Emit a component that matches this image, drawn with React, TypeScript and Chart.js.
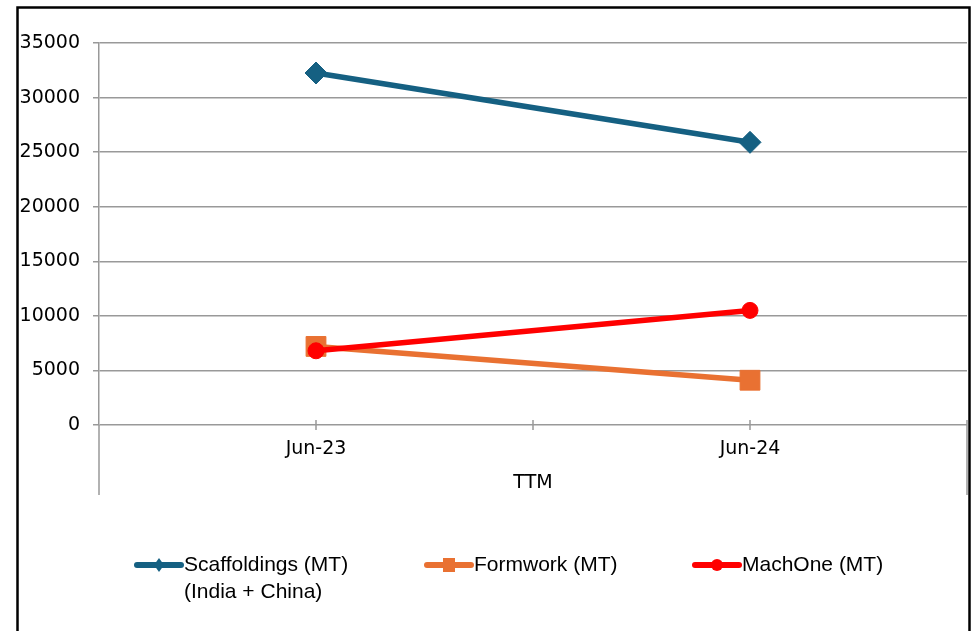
import React, { useEffect, useRef } from 'react';
import { Chart, registerables } from 'chart.js';

Chart.register(...registerables);

const categories = ['Jun-23', 'Jun-24'];
const groupLabel = 'TTM';
const scaffoldings = [32250, 25900];
const formwork = [7200, 4100];
const machOne = [6800, 10500];
const seriesLabels = [
  ['Scaffoldings (MT)', '(India + China)'],
  ['Formwork (MT)'],
  ['MachOne (MT)'],
];
const seriesColors = ['#156082', '#E97132', '#FF0000'];
const seriesMarkers = ['rectRot', 'rect', 'circle'];
const yMin = 0;
const yMax = 35000;
const yStep = 5000;

const AXIS_FAMILY = '"DejaVu Sans", Verdana, sans-serif';
const AXIS_SIZE = 19;
const LEGEND_FONT = '21px "Liberation Sans", Arial, sans-serif';
const GRID = '#999999';

const decorPlugin = {
  id: 'decor',
  afterDraw(chart: any) {
    const ctx = chart.ctx;
    const area = chart.chartArea;
    const xs = chart.scales.x;
    ctx.save();
    // outer frame
    ctx.strokeStyle = '#000000';
    ctx.lineWidth = 2.5;
    ctx.strokeRect(17.5, 7.5, 952, 700);

    // multi-level category separators
    ctx.strokeStyle = GRID;
    ctx.lineWidth = 1.5;
    ctx.beginPath();
    ctx.moveTo(area.left, area.bottom);
    ctx.lineTo(area.left, area.bottom + 70);
    ctx.moveTo(area.right, area.bottom - 5);
    ctx.lineTo(area.right, area.bottom + 70);
    const n = categories.length;
    const pts: number[] = [];
    for (let i = 0; i < n; i++) {
      pts.push(xs.getPixelForValue(i));
    }
    const half = (area.right - area.left) / (2 * n);
    for (let i = 0; i < n; i++) {
      pts.push(pts[i] + half);
    }
    pts.forEach((px) => {
      ctx.moveTo(px, area.bottom - 5);
      ctx.lineTo(px, area.bottom + 5);
    });
    ctx.stroke();

    // group label
    ctx.fillStyle = '#000000';
    ctx.font = AXIS_SIZE + 'px ' + AXIS_FAMILY;
    ctx.textAlign = 'center';
    ctx.textBaseline = 'middle';
    ctx.fillText(groupLabel, (area.left + area.right) / 2, area.bottom + 58);

    // legend
    const legendX = [135, 425, 693];
    const legendY = 565;
    const lineH = 27;
    ctx.font = LEGEND_FONT;
    ctx.textAlign = 'left';
    chart.data.datasets.forEach((ds: any, i: number) => {
      const x0 = legendX[i];
      const color = seriesColors[i];
      ctx.strokeStyle = color;
      ctx.fillStyle = color;
      ctx.lineWidth = 6;
      ctx.lineCap = 'round';
      ctx.beginPath();
      ctx.moveTo(x0 + 2, legendY);
      ctx.lineTo(x0 + 46, legendY);
      ctx.stroke();
      const cx = x0 + 24;
      ctx.beginPath();
      if (seriesMarkers[i] === 'rectRot') {
        ctx.moveTo(cx, legendY - 7);
        ctx.lineTo(cx + 5, legendY);
        ctx.lineTo(cx, legendY + 7);
        ctx.lineTo(cx - 5, legendY);
        ctx.closePath();
      } else if (seriesMarkers[i] === 'rect') {
        ctx.rect(cx - 6, legendY - 7, 12, 14);
      } else {
        ctx.arc(cx, legendY, 6, 0, Math.PI * 2);
      }
      ctx.fill();
      ctx.fillStyle = '#000000';
      seriesLabels[i].forEach((t, j) => {
        ctx.fillText(t, x0 + 49, legendY + j * lineH);
      });
    });
    ctx.restore();
  },
};

export default function App() {
  const ref = useRef<HTMLCanvasElement | null>(null);
  useEffect(() => {
    if (!ref.current) return;
    const mk = (label: string, data: number[], i: number, radius: number, order: number) => ({
      label,
      data,
      order,
      borderColor: seriesColors[i],
      backgroundColor: seriesColors[i],
      pointBackgroundColor: seriesColors[i],
      pointBorderColor: seriesColors[i],
      pointBorderWidth: 1,
      borderWidth: 5.5,
      pointStyle: seriesMarkers[i],
      pointRadius: radius,
      pointHoverRadius: radius,
      tension: 0,
    });
    const chart = new Chart(ref.current, {
      type: 'line',
      data: {
        labels: categories,
        datasets: [
          mk(seriesLabels[0].join(' '), scaffoldings, 0, 11, 2),
          mk(seriesLabels[1].join(' '), formwork, 1, 14, 1),
          mk(seriesLabels[2].join(' '), machOne, 2, 8, 0),
        ],
      },
      options: {
        animation: false,
        responsive: false,
        devicePixelRatio: 1,
        layout: { autoPadding: false, padding: { left: 0, right: 7, top: 43, bottom: 0 } },
        plugins: {
          legend: { display: false },
          tooltip: { enabled: false },
          title: { display: false },
        },
        scales: {
          x: {
            type: 'category',
            offset: true,
            grid: { display: false },
            border: { display: false },
            ticks: {
              color: '#000000',
              font: { family: AXIS_FAMILY, size: AXIS_SIZE },
              padding: 5,
              maxRotation: 0,
            },
            afterFit: (s: any) => {
              s.height = 206;
              s.paddingLeft = 0;
              s.paddingRight = 0;
            },
          },
          y: {
            min: yMin,
            max: yMax,
            grid: {
              color: GRID,
              lineWidth: 1.5,
              tickLength: 6,
              tickColor: GRID,
            },
            border: { display: true, color: GRID, width: 1.5 },
            ticks: {
              stepSize: yStep,
              color: '#000000',
              font: { family: AXIS_FAMILY, size: AXIS_SIZE },
              padding: 13,
              callback: (v: any) => String(v),
            },
            afterFit: (s: any) => {
              s.width = 99;
            },
          },
        },
      },
      plugins: [decorPlugin],
    });
    return () => chart.destroy();
  }, []);
  return (
    <div style={{ position: 'absolute', left: 0, top: 0, width: 974, height: 631, background: '#ffffff' }}>
      <canvas ref={ref} width={974} height={631} style={{ display: 'block' }} />
    </div>
  );
}
